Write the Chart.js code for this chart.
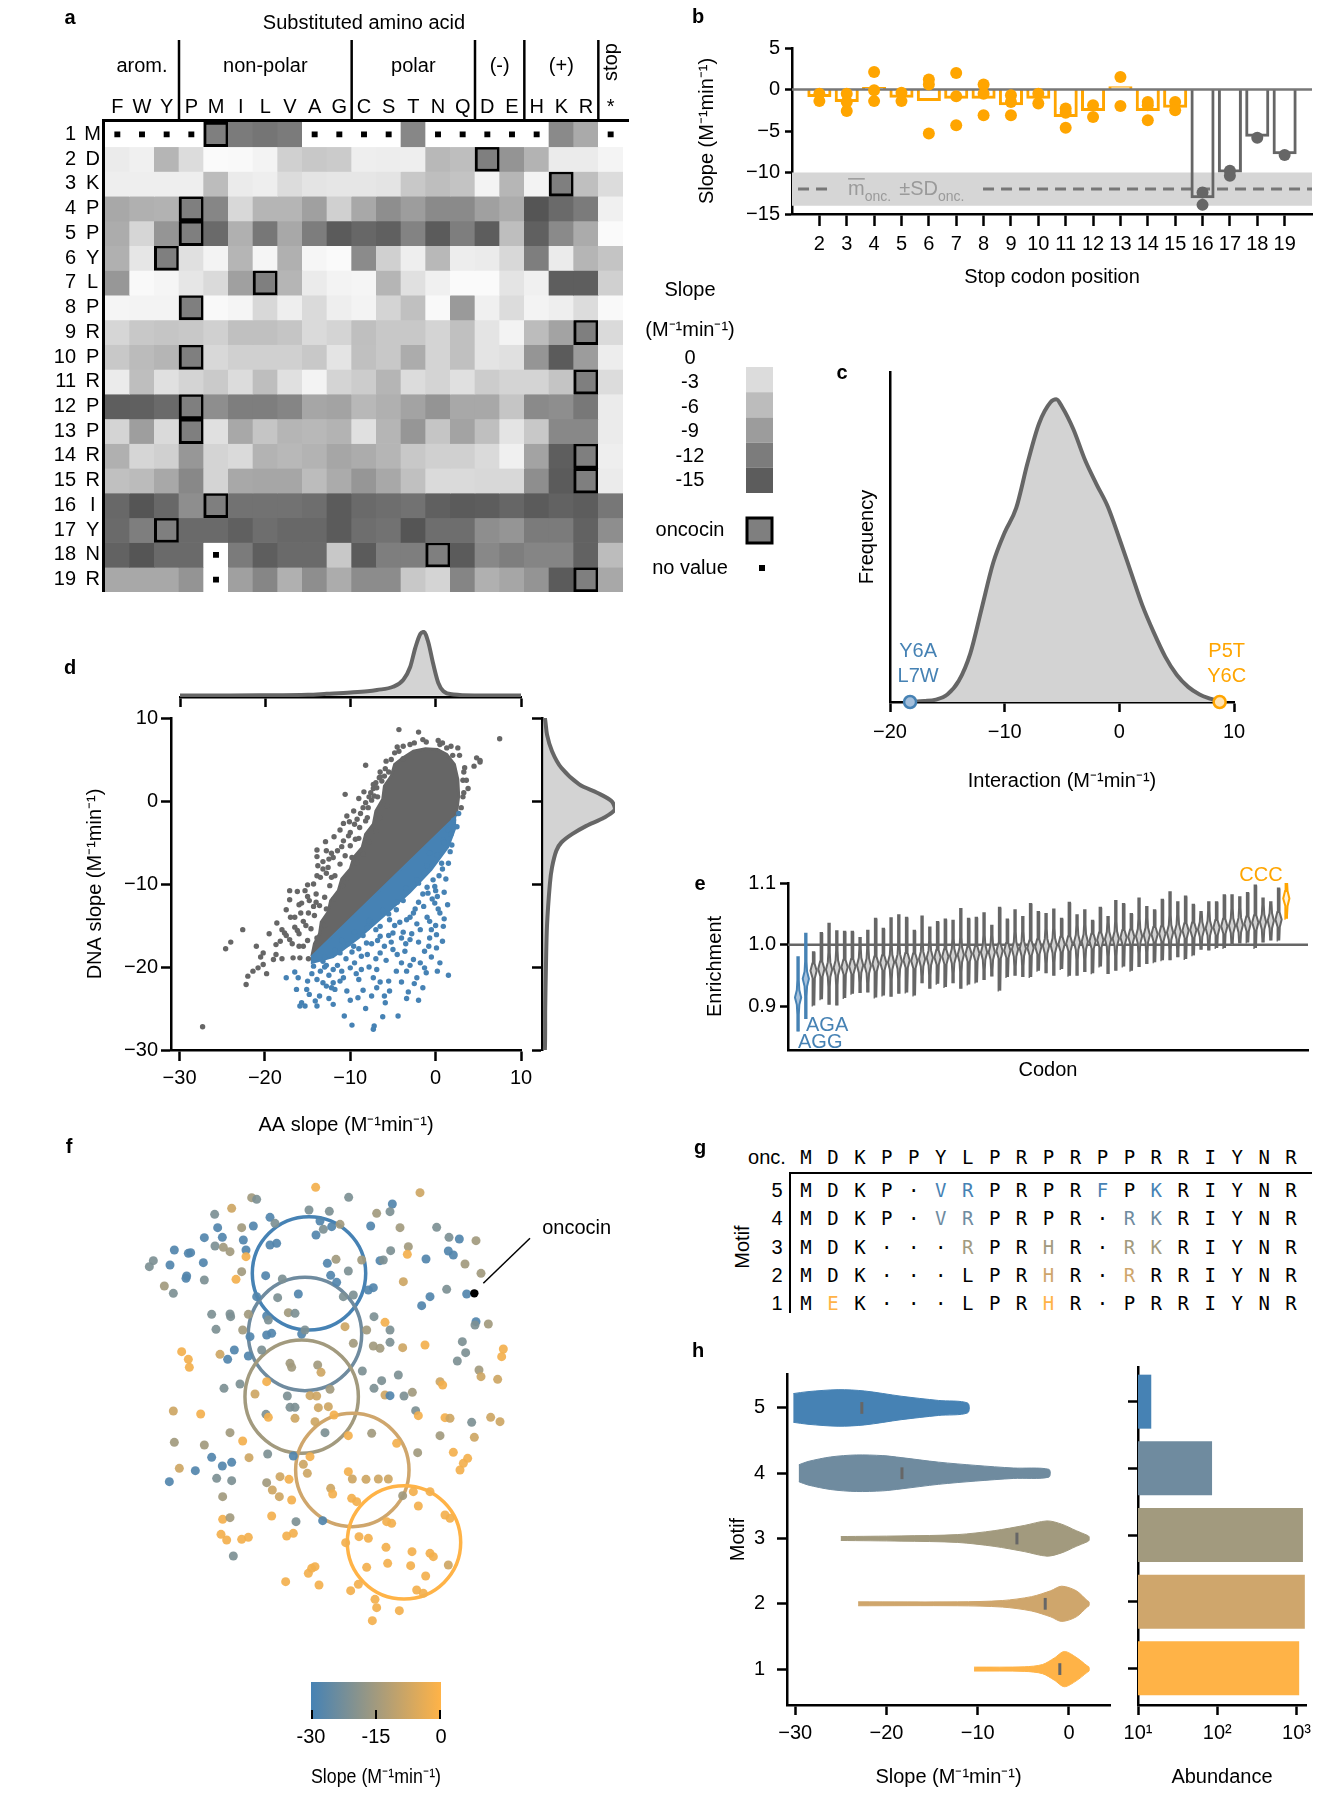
<!DOCTYPE html>
<html>
<head>
<meta charset="utf-8">
<title>Oncocin substitution figure</title>
<script src="https://cdn.jsdelivr.net/npm/chart.js@4.4.1/dist/chart.umd.min.js"></script>
<style>
  html, body { margin: 0; padding: 0; background: #fff; }
  body { position: relative; width: 1319px; height: 1797px; overflow: hidden;
         font-family: 'Liberation Sans', Arial, sans-serif; color: #000; }
  .pane { position: absolute; }
  .pane canvas { display: block; }
  .tag { position: absolute; font-weight: bold; font-size: 20px; line-height: 24px; transform: translate(-50%, -50%); }
  .seq { position: absolute; font-family: 'DejaVu Sans Mono', monospace; font-size: 19px; line-height: 24px; transform: translate(-50%, -50%); }
  .txt { position: absolute; font-size: 20px; line-height: 24px; transform: translate(-50%, -50%); white-space: nowrap; }
  .rule { position: absolute; background: #000; }
</style>
</head>
<body>
<div class="pane" style="left:0;top:0;width:800px;height:610px"><canvas id="heat"></canvas></div>
<div class="pane" style="left:690px;top:0;width:629px;height:300px"><canvas id="stop"></canvas></div>
<div class="pane" style="left:830px;top:340px;width:489px;height:470px"><canvas id="inter"></canvas></div>
<div class="pane" style="left:60px;top:620px;width:500px;height:530px"><canvas id="dna"></canvas></div>
<div class="pane" style="left:60px;top:600px;width:500px;height:110px"><canvas id="dnaTop"></canvas></div>
<div class="pane" style="left:520px;top:700px;width:110px;height:360px"><canvas id="dnaSide"></canvas></div>
<div class="pane" style="left:690px;top:850px;width:629px;height:260px"><canvas id="codon"></canvas></div>
<div class="pane" style="left:120px;top:1130px;width:520px;height:520px"><canvas id="tsne"></canvas></div>
<div class="pane" style="left:280px;top:1670px;width:200px;height:127px"><canvas id="cbar"></canvas></div>
<div class="pane" style="left:700px;top:1350px;width:420px;height:447px"><canvas id="motifViolin"></canvas></div>
<div class="pane" style="left:1100px;top:1350px;width:219px;height:447px"><canvas id="motifAbund"></canvas></div>

<script>
// ---------- panel a: substitution heat map ----------
const aaCols = ['F','W','Y','P','M','I','L','V','A','G','C','S','T','N','Q','D','E','H','K','R','*'];
const oncSeq = ['M','D','K','P','P','Y','L','P','R','P','R','P','P','R','R','I','Y','N','R'];
const oncBoxCol = ['M','D','K','P','P','Y','L','P','R','P','R','P','P','R','R','M','Y','N','R'];
const aaGroups = ['arom.', 'non-polar', 'polar', '(-)', '(+)', 'stop'];
const aaGroupSpan = [[0, 2], [3, 9], [10, 14], [15, 16], [17, 19], [20, 20]];
const heat = [
  [null,null,null,null,-12,-11,-11.5,-11,null,null,null,null,-9.8,null,null,null,null,null,-9.5,-6.5,null],
  [-0.3,0.2,-5.4,-1.7,1.5,1,0.5,-2.9,-3.6,-3.3,0,-0.1,0,-5.1,-4.6,-12,-8.6,-5.6,-0.3,-0.3,0.6],
  [0,0,0,0,-4.8,-0.3,0,-1.7,-1,-0.8,-0.8,-1,-3.6,-4.6,-4.1,0.5,-5.3,0.5,-12,-4.5,-1.7],
  [-6.7,-5.9,-5.7,-12,-9.9,-2.1,-5.4,-5.4,-7.4,-2.9,-6.7,-9.1,-7.7,-9.5,-9.5,-7.4,-6.3,-14.6,-12.6,-11,0.2],
  [-6.3,-2.3,-8.5,-12,-12.6,-5.9,-11.3,-6.7,-10.8,-14,-12.9,-13.5,-10.2,-14,-10.7,-13.8,-4.6,-13.5,-9.5,-6.4,1.2],
  [-5.9,-0.8,-12,-1.3,0.5,-5.4,0.7,-5.9,0.8,1.3,-9.4,-2.9,0,-5.1,-0.1,-0.3,-2.1,-10.7,-0.3,-5.4,-4],
  [-8.3,1,0.7,-0.8,-1.9,-7.4,-12,-5.4,-0.3,0.5,0.7,-5.4,-1.3,0.2,1.1,1.6,-1,0.2,-13.7,-13.7,-2.9],
  [0.7,0.5,0.5,-12,1,0.7,-2.1,0,-1.9,0,0.5,-2.5,-4.4,1,-8,0.2,-1.7,0.5,0,-1.7,1],
  [-2.3,-3.6,-3.9,-3.6,-2.9,-4.4,-4.4,-3.9,-1.9,-2.5,-4.5,-3.6,-3.6,-2.5,-4.4,-1,0.5,-4.8,-7.1,-12,-1.9],
  [-3.6,-4.9,-5.4,-12,-2.1,-2.9,-2.9,-2.9,-3.6,-1,-4.4,-3.6,-6.3,-2.5,-4.4,-1,-1.3,-8.5,-14,-7.8,-0.1],
  [-0.3,-4.6,-1.3,-2.5,-3.4,-1.7,-4.6,-1.3,0.5,-2.5,-3.2,-5.4,-1.7,-2.5,-1.3,-3.2,-2.5,-2.5,-4.0,-12,-1.7],
  [-13.7,-13.5,-12.6,-12,-9.1,-10.7,-10.7,-10,-6.9,-7.1,-5.1,-5.9,-7.1,-8.6,-6.7,-6.7,-3.9,-9.5,-9.1,-11.2,-0.3],
  [-2.5,-7.6,-1.9,-12,-1.3,-6.7,-3.9,-5.4,-5.1,-5.6,-1.3,-5.4,-8.4,-3.9,-7.1,-4.5,-1,-3.6,-9.7,-9.7,-0.3],
  [-5.9,-2.3,-2.9,-8.3,-2.5,-1.9,-5.6,-5.1,-5.6,-6.9,-6.3,-5.4,-3.6,-2.9,-2.9,-1.9,0.2,-7.1,-13.7,-12,0],
  [-4.4,-4.9,-6.7,-9.7,-2.5,-6.7,-6.9,-6.9,-4.8,-6.4,-8.4,-6.7,-4.4,-1.9,-1.9,-2.1,-2.1,-9.1,-14,-12,-0.3],
  [-12.8,-14.6,-12.8,-9.1,-12,-11.8,-11.8,-11.8,-12.2,-14,-12.6,-12.2,-11.8,-13.5,-14,-13.8,-13,-14,-13.3,-13.8,-11.3],
  [-12.6,-10.7,-12,-12.6,-12.6,-13.5,-12.2,-12.8,-12.8,-14,-12.2,-11.8,-14.6,-12.2,-12.2,-9.1,-8.5,-11,-11,-13.3,-9.1],
  [-13.3,-14.6,-12.6,-12.6,null,-11,-13.7,-12.6,-12.6,-3.6,-14,-10.7,-10.7,-12,-14,-9.7,-10.7,-10,-10,-13.3,-4.8],
  [-6.7,-6.7,-6.7,-8.6,null,-7.4,-9.9,-5.9,-9.1,-6.3,-9.3,-9.3,-3.6,-2.5,-10,-5.9,-6.9,-8.6,-14,-12,-6.7]
];
const slopeLegendTicks = ['0', '-3', '-6', '-9', '-12', '-15'];
const slopeLegendGreys = ['#dcdcdc', '#bcbcbc', '#9c9c9c', '#7c7c7c', '#5c5c5c'];

// ---------- panel b: stop codons ----------
const stopPos = [2,3,4,5,6,7,8,9,10,11,12,13,14,15,16,17,18,19];
const stopMean = [-0.9,-1.5,0.3,-1.0,-1.4,-1.1,-1.1,-1.9,-1.1,-3.3,-2.6,0.4,-2.6,-2.2,-13.1,-10.0,-5.7,-7.8];
const stopReps = [
  [-0.5,-1.4], [-0.5,-1.5,-2.6], [2.1,-0.1,-1.4], [-0.4,-1.4], [1.2,0.6,-5.3], [2.0,-0.8,-4.3],
  [0.6,-0.5,-3.1], [-0.7,-1.5,-3.1], [-0.5,-1.7], [-2.3,-2.8,-4.6], [-1.9,-3.3], [1.5,-2.0],
  [-1.5,-1.9,-3.7], [-1.5,-2.5], [-12.4,-13.9], [-9.8,-10.4], [-5.8], [-7.9]
];
const oncMean = -12;
const oncSD = 2;

// ---------- panel c: pairwise interaction ----------
const interX = [-18.3,-17,-16,-15,-14,-13,-12,-11,-10,-9,-8,-7,-6,-5.5,-5,-4,-3,-2,-1,0,1,2,3,4,5,6,7,8,8.8];
const interY = [0,0.003,0.008,0.025,0.07,0.16,0.31,0.46,0.56,0.64,0.79,0.92,0.99,1.0,0.975,0.9,0.8,0.72,0.645,0.54,0.43,0.32,0.23,0.15,0.09,0.05,0.025,0.01,0];
const interMarks = [-18.25, 8.75];

// ---------- panel d: AA vs DNA slope ----------
const dnaGray = [[-4.3,8.6],[-2.0,8.3],[7.5,7.5],[-8.2,4.3],[1.3,6.4],[2.6,6.4],[4.8,5.2],[5.2,4.9],[4.5,4.2],[5.2,4.7],
  [3.8,1.5],[3.2,2.5],[-10.6,0.8],[-8.4,1.1],[-7.5,0.1],[-9.6,-1.2],[-10.1,-2.5],[-10.8,-2.7],[-11.9,-4.3],[-12.9,-4.9],
  [-13.9,-5.9],[-13.9,-6.7],[-13.2,-7.3],[-12.2,-6.3],[-13.9,-9.0],[-12.8,-8.7],[-15.0,-10.1],[-17.1,-10.8],[-16.2,-10.9],[-17.1,-11.9],
  [-15.7,-12.3],[-17.5,-13.1],[-18.6,-14.7],[-18.2,-16.9],[-17.1,-16.7],[-19.0,-19.1],[-18.7,-18.5],[-20.2,-18.3],[-20.5,-18.8],[-20.2,-19.7],
  [-20.8,-20.1],[-21.4,-20.5],[-22.0,-21.1],[-22.2,-22.1],[-22.6,-15.5],[-24.0,-17.0],[-24.6,-17.8],[-27.3,-27.2],[-16.7,-18.9],[-15.9,-18.9],
  [-14.9,-19.0],[-18.7,-17.3],[-17.7,-15.9],[-15.5,-14.5],[-14.9,-13.5],[-14.3,-12.7],[-1.1,7.1],[0.3,7.3],[-3.8,5.1],[-6.5,2.9],
  [-7.3,1.5],[-5.5,3.5],[-16.0,-17.5],[-9.0,-4.5],[-8.0,-2.0],[-6.8,0.5],[-6.0,3.0],[-4.5,6.5],[-3.0,6.8],[0.5,6.8],
  [2.0,5.5],[3.3,3.5],[3.2,0.5],[-16.5,-14.0],[-19.5,-16.0],[-21.0,-17.5],[-19.8,-20.8],[-18.0,-19.0],
  [-15.5,-17.5],[-16.0,-16.0],[-15.2,-15.0],[-14.8,-12.0],[-14.0,-11.2],[-13.5,-9.2],[-12.6,-8.0],[-12.0,-6.8],[-11.0,-5.5],[-10.2,-4.2],
  [-9.5,-2.8],[-8.8,-1.5],[-8.2,-0.2],[-7.6,1.0],[-7.0,2.2],[-6.5,3.5],[-5.8,4.8],[-4.8,5.8],[-3.8,6.6],[-2.5,7.0],
  [-1.5,7.4],[0.8,7.0],[1.8,6.6],[2.8,5.5],[3.4,4.0],[3.6,2.5],[3.3,1.0],[3.0,-0.8],[-16.5,-15.2],[-15.8,-13.5],
  [-15.0,-11.5],[-14.3,-10.0],[-13.2,-8.2],[-12.5,-7.0],[-11.5,-6.0],[-10.8,-4.8],[-10.0,-3.8],[-9.2,-2.2],[-8.5,-0.8],[-7.8,0.5],
  [-7.3,2.0],[-6.6,2.8],[-16.0,-12.5],[-15.3,-10.8],[-13.8,-7.8],[-12.8,-6.0],[-11.2,-3.5],[-10.4,-1.8],[-9.0,0.3],[-17.0,-14.0],
  [-18.0,-15.5],[-16.8,-17.2],
  [-15.0,-16.8],[-14.6,-15.4],[-14.2,-13.8],[-13.6,-12.6],[-13.0,-11.6],[-12.4,-10.2],[-11.8,-9.0],[-11.2,-7.6],[-10.6,-6.6],[-10.0,-5.4],
  [-9.4,-4.6],[-8.9,-3.2],[-8.2,-2.4],[-7.9,-0.8],[-7.2,0.6],[-6.9,1.6],[-6.3,2.4],[-5.9,3.9],[-5.2,5.0],[-4.3,6.0],
  [-13.0,-15.0],[-13.9,-16.5],[-12.8,-13.0],[-11.9,-11.8],[-10.9,-10.2],[-10.3,-9.3],[-9.2,-7.5],[-8.5,-6.4],[-7.8,-4.9],[-7.0,-3.6],
  [-6.5,-2.0],[-5.7,-0.6],[-17.5,-16.2],[-16.2,-15.6],[-14.0,-12.2],[-12.2,-9.2],[-9.8,-6.8]];
const dnaBlue = [[2.7,-1.5],[2.5,-3.1],[1.5,-3.5],[1.9,-5.3],[1.7,-6.1],[0.7,-7.5],[1.5,-7.5],[-0.3,-9.5],[-0.1,-10.3],[-0.9,-11.1],
  [-0.1,-12.3],[0.5,-13.5],[-0.7,-14.5],[0.9,-15.1],[0.1,-16.1],[-0.7,-16.5],[0.8,-16.9],[0.1,-17.7],[-1.3,-18.1],[-1.3,-20.1],
  [-1.1,-20.7],[1.5,-21.0],[-2.2,-21.3],[-3.4,-20.5],[-4.6,-20.5],[-5.5,-21.7],[-5.9,-24.3],[-4.4,-25.9],[-5.4,-22.9],[-6.9,-22.5],
  [-7.3,-21.3],[-7.5,-23.5],[-7.2,-27.1],[-7.3,-27.5],[-9.1,-23.7],[-10.4,-22.9],[-10.7,-25.9],[-11.8,-22.7],[-11.2,-21.7],[-13.2,-21.9],
  [-13.9,-21.5],[-14.1,-24.1],[-13.9,-24.7],[-15.7,-24.3],[-15.3,-24.7],[-15.9,-24.7],[-15.1,-22.7],[-16.3,-22.7],[-16.1,-21.3],[-17.5,-21.3],
  [-13.6,-23.5],[-12.8,-22.3],[-12.2,-22.5],[-14.3,-19.9],[-13.2,-19.3],[-12.0,-20.3],[-10.0,-20.1],[-8.7,-20.3],[-6.9,-20.3],[-6.5,-18.3],
  [-5.0,-17.9],[-3.6,-18.1],[-2.6,-19.1],[-3.0,-16.7],[-1.8,-15.5],[-5.0,-15.9],[-6.5,-16.3],[-8.1,-17.1],[-9.6,-17.5],[-11.2,-18.3],
  [-8.7,-18.7],[-2.6,-13.5],[-1.4,-12.7],[-3.4,-14.3],[-4.6,-13.1],[-5.4,-14.3],[-6.5,-15.1],[-7.7,-14.3],[-2.0,-9.9],[-1.3,-8.7],
  [-0.7,-6.3],[0.9,-4.7],[2.1,-2.3],[-2.0,-17.0],[-4.0,-16.5],[-1.0,-14.0],[0.2,-11.5],[-9.5,-19.5],[-11.0,-20.5],[-7.0,-19.0],
  [-4.0,-19.5],[-2.5,-22.0],[-6.0,-23.5],[-9.0,-21.5],[-12.5,-23.8],[-0.5,-18.8],[0.5,-19.5],[-3.2,-23.0],[-8.2,-25.0],
  [-13.5,-20.5],[-12.5,-21.0],[-11.5,-19.8],[-10.5,-19.0],[-9.8,-18.2],[-9.0,-17.8],[-8.0,-18.5],[-7.5,-17.2],[-6.8,-16.8],[-6.0,-17.5],
  [-5.5,-16.2],[-4.8,-15.0],[-4.2,-14.6],[-3.8,-15.8],[-3.0,-14.0],[-2.4,-13.0],[-2.0,-12.2],[-1.5,-11.2],[-1.0,-10.4],[-0.4,-11.8],
  [0.0,-10.8],[0.4,-9.0],[0.8,-8.2],[1.2,-9.4],[1.0,-11.0],[1.4,-12.5],[0.3,-13.0],[-0.5,-15.5],[1.0,-14.2],[-2.8,-16.0],
  [-3.5,-17.2],[-4.5,-18.5],[-5.8,-19.2],[-7.8,-20.0],[-9.3,-20.8],[-10.8,-21.3],[-12.0,-21.9],[-13.0,-20.0],[-14.5,-20.8],[-15.0,-21.7],
  [-16.5,-20.6],[-14.8,-23.3],[-12.0,-24.5],[-10.0,-24.0],[-8.5,-22.8],[-6.5,-21.8],[-4.0,-21.8],[-3.0,-19.8],[-1.8,-19.5],[-0.8,-17.5],
  [0.0,-15.0],[-2.2,-14.8],[-5.2,-17.0],[-7.0,-15.5],[-8.5,-16.2],[-10.2,-17.2],[-11.8,-18.0],[-13.0,-18.8],[-11.0,-16.8],[-9.5,-15.8],
  [-7.8,-14.5],[-6.2,-13.2],[-4.5,-12.2],[-3.5,-10.5],[-2.2,-9.5],[-1.0,-7.8],[0.2,-6.5],[1.0,-5.0],[1.8,-4.0],[-3.8,-12.0],
  [-5.5,-13.6],[-8.0,-15.3],[-12.8,-19.8],[-3.4,-23.8],[-1.5,-22.5],[-2.0,-24.0],[0.2,-20.5],[-6.2,-26.0],[-9.8,-27.0]];
const grayCore = [[-14.5,-18.7],[-14.2,-17.2],[-13.6,-16.0],[-13.4,-14.6],[-12.6,-13.4],[-12.3,-12.0],[-11.4,-10.8],[-11.0,-9.4],
  [-10.0,-8.2],[-9.6,-6.8],[-8.6,-5.6],[-8.2,-4.0],[-7.3,-2.8],[-7.0,-1.2],[-6.2,0.2],[-6.0,1.8],[-5.2,3.0],[-4.8,4.4],
  [-3.8,5.2],[-2.6,6.0],[-1.2,6.3],[0.2,6.2],[1.3,5.6],[2.2,4.4],[2.6,2.6],[2.7,0.6],[2.4,-1.8]];
const blueCore = [[2.4,-1.8],[-14.5,-18.7],[-14.5,-19.5],[-12,-18.8],[-9,-16.5],[-6,-13.8],[-3,-11],[-0.5,-8.3],[1.5,-5.5],[2.4,-3.0]];
const aaDensX = [-30,-25,-20.6,-15,-12.8,-10,-8,-6.9,-5,-3.8,-3,-2.4,-1.8,-1.4,-0.9,-0.3,0.3,0.9,2.1,4.8,10];
const aaDensY = [0.003,0.004,0.006,0.015,0.03,0.05,0.07,0.09,0.14,0.25,0.45,0.75,0.97,1.0,0.85,0.5,0.2,0.07,0.02,0.005,0.003];
const dnaDensY = [-30,-25,-20,-15,-10,-8,-6,-5,-4,-3,-2,-1,0,1,2,4,6,8,10];
const dnaDensX = [0.02,0.025,0.035,0.05,0.09,0.12,0.18,0.25,0.4,0.6,0.85,1.0,0.95,0.75,0.5,0.25,0.12,0.05,0.02];

// ---------- panel e: codon enrichment (AGG, AGA, ..., CCC) ----------
const codonMed = [0.915,0.945,
  0.958,0.961,0.960,0.963,0.964,0.965,0.967,0.966,0.969,0.971,
  0.972,0.973,0.975,0.974,0.977,0.979,0.980,0.981,0.982,0.984,
  0.985,0.986,0.988,0.988,0.990,0.991,0.993,0.994,0.995,0.997,
  0.998,0.999,1.001,1.002,1.004,1.005,1.006,1.008,1.009,1.010,
  1.012,1.013,1.014,1.016,1.017,1.018,1.020,1.021,1.023,1.024,
  1.025,1.027,1.028,1.030,1.031,1.032,1.034,1.036,1.037,1.039,1.041,
  1.075];
const codonLo = [0.86,0.88,
  0.902,0.912,0.903,0.902,0.914,0.921,0.922,0.923,0.915,0.918,
  0.916,0.921,0.923,0.918,0.938,0.929,0.937,0.932,0.938,0.929,
  0.936,0.939,0.943,0.949,0.926,0.948,0.950,0.948,0.948,0.958,
  0.954,0.950,0.961,0.950,0.950,0.956,0.954,0.965,0.953,0.958,
  0.965,0.958,0.964,0.969,0.972,0.975,0.975,0.980,0.977,0.983,
  0.992,0.991,0.995,0.995,1.001,1.002,1.004,0.995,1.004,1.007,1.007,
  1.042];
const codonHi = [0.98,1.018,
  0.988,1.019,1.034,1.022,1.021,1.021,1.011,1.023,1.042,1.026,
  1.043,1.048,1.044,1.023,1.046,1.028,1.037,1.041,1.039,1.058,
  1.042,1.044,1.051,1.031,1.060,1.041,1.056,1.045,1.066,1.053,
  1.050,1.057,1.042,1.068,1.048,1.056,1.039,1.060,1.045,1.071,
  1.066,1.050,1.075,1.061,1.056,1.073,1.085,1.069,1.078,1.065,
  1.053,1.069,1.069,1.080,1.080,1.077,1.084,1.096,1.075,1.069,1.091,
  1.1];

// ---------- panel f: sequence map, [x, y, slope] ----------
const tsnePts = [[58.7,17.2,-2],[90.0,18.8,-8],[39.5,20.3,-15],[41.0,20.8,-21],[33.5,23.5,-8],[68.6,20.2,-21],[81.7,22.2,-28],[81.0,24.5,-21],
  [56.7,24.0,-21],[62.8,24.4,-21],[77.0,25.0,-15],[28.4,25.3,-21],[45.0,26.2,-28],[46.5,28.0,-21],[29.3,29.3,-28],[40.0,28.8,-28],
  [36.5,29.3,-15],[60.0,27.3,-28],[61.0,29.8,-21],[63.5,29.0,-28],[66.0,28.3,-15],[75.2,28.8,-28],[84.0,29.3,-15],[95.0,29.2,-21],
  [25.3,32.3,-28],[30.7,32.2,-28],[37.0,33.0,-28],[45.0,34.5,-28],[47.0,34.0,-28],[58.8,31.5,-28],[98.7,32.2,-21],[101.8,32.7,-28],
  [106.8,33.2,-15],[28.5,34.8,-21],[31.0,35.2,-15],[33.0,36.5,-15],[37.8,36.0,-28],[16.3,36.0,-28],[20.5,37.0,-28],[21.2,36.8,-28],
  [37.8,38.0,-2],[72.5,39.0,-15],[78.0,39.2,-28],[79.0,39.0,-21],[81.2,36.2,-21],[86.5,35.0,-15],[86.2,37.3,-2],[91.8,38.7,-28],
  [98.5,36.3,-28],[100.0,37.5,-28],[64.8,38.8,-15],[62.2,40.0,-28],[10.0,39.2,-21],[8.8,41.0,-21],[15.0,40.5,-28],[25.0,39.8,-28],
  [103.5,40.2,-15],[36.5,42.5,-15],[34.8,44.8,-2],[43.7,43.7,-28],[20.0,43.8,-28],[19.8,44.5,-28],[25.3,45.0,-21],[48.7,44.7,-21],
  [63.2,43.6,-28],[65.0,45.7,-28],[68.5,42.3,-21],[85.0,45.5,-8],[76.0,47.3,-28],[74.5,48.0,-28],[108.3,43.0,-15],[13.3,46.8,-15],
  [16.0,49.0,-21],[53.5,49.2,-28],[47.3,50.3,-21],[41.0,50.0,-28],[67.0,50.0,-21],[70.0,49.5,-21],[93.0,50.0,-28],[90.5,52.7,-28],
  [98.0,47.8,-21],[104.0,49.2,-28],[27.5,55.3,-21],[33.0,55.2,-21],[33.2,56.0,-21],[38.5,55.3,-15],[44.0,55.8,-28],[44.5,57.0,-21],
  [50.5,54.8,-15],[52.5,55.0,-21],[76.2,56.0,-21],[79.5,57.7,-2],[106.8,57.5,-28],[106.5,58.5,-21],[110.5,58.2,-15],[28.8,59.8,-21],
  [36.8,60.0,-15],[67.5,59.0,-8],[74.0,60.0,-15],[81.0,60.0,-21],[39.0,62.0,-28],[44.0,61.5,-28],[45.5,61.0,-28],[54.5,61.2,-28],
  [55.5,60.0,-21],[70.0,64.0,-15],[76.0,64.8,-15],[78.0,65.5,-15],[81.0,63.7,-21],[84.8,65.3,-8],[91.5,64.5,-2],[102.7,63.5,-21],
  [18.5,66.5,-2],[20.5,68.8,-2],[20.8,71.2,-2],[30.0,67.3,-8],[34.3,66.0,-28],[32.3,68.8,-28],[38.5,67.8,-28],[42.5,66.0,-21],
  [51.0,70.0,-15],[51.5,71.2,-15],[59.3,70.5,-15],[60.3,72.7,-8],[72.7,72.3,-21],[101.2,69.3,-21],[103.7,66.8,-21],[115.0,65.7,-2],
  [114.5,68.0,-2],[31.2,77.5,-21],[36.0,76.2,-21],[44.0,75.5,-2],[76.2,77.5,-21],[78.5,75.2,-21],[83.5,73.5,-21],[96.0,75.5,-8],
  [96.8,76.5,-2],[107.7,72.0,-15],[108.3,74.0,-8],[113.3,74.8,-8],[40.5,79.2,-8],[50.2,79.8,-21],[57.0,79.7,-8],[59.0,79.8,-8],
  [63.0,77.8,-15],[79.5,79.5,-8],[81.0,79.7,-28],[85.2,79.8,-21],[87.7,78.7,-15],[16.0,84.3,-8],[24.2,85.2,-2],[43.8,85.3,-21],
  [44.5,86.2,-2],[51.0,83.2,-21],[52.5,83.2,-21],[52.5,86.5,-8],[59.5,83.3,-8],[62.5,83.0,-8],[64.2,85.5,-2],[58.5,87.5,-8],
  [88.7,84.2,-21],[89.5,85.7,-2],[97.5,86.3,-2],[99.0,86.5,-8],[105.5,87.7,-21],[111.2,86.2,-8],[114.0,87.5,-8],[33.0,90.8,-15],
  [36.8,93.3,-2],[16.3,93.7,-15],[25.3,94.5,-15],[61.5,90.8,-21],[68.5,91.7,-2],[75.5,91.0,-15],[83.0,94.0,-2],[89.3,96.8,-15],
  [96.0,91.7,-15],[106.3,92.2,-8],[100.0,96.7,-2],[104.3,98.5,-2],[103.0,100.0,-2],[102.0,102.0,-2],[27.5,98.2,-28],[30.7,100.8,-28],
  [33.5,99.7,-28],[38.7,98.3,-8],[44.3,97.2,-21],[52.0,97.8,-28],[57.0,98.0,-2],[55.0,100.3,-8],[56.2,103.0,-8],[17.8,101.5,-8],
  [22.6,102.2,-28],[14.8,105.5,-28],[29.0,104.5,-21],[33.5,105.2,-21],[44.0,105.8,-15],[48.0,104.0,-8],[50.7,104.8,-2],[45.7,108.0,-8],
  [47.8,110.0,-8],[51.5,111.0,-2],[68.5,102.5,-2],[69.7,104.7,-8],[73.8,104.8,-8],[77.5,104.7,-8],[80.5,104.7,-8],[63.2,107.5,-8],
  [63.8,109.2,-2],[69.5,110.5,-2],[71.0,111.5,-2],[84.8,109.7,-15],[88.0,108.5,-2],[93.0,108.5,-2],[89.5,112.8,-2],[30.8,110.0,-15],
  [30.8,116.8,-2],[33.0,116.3,-15],[45.5,115.8,-2],[52.8,117.5,-21],[60.8,117.2,-28],[80.0,117.5,-2],[81.5,118.0,-2],[97.5,115.5,-2],
  [99.0,116.5,-2],[30.3,121.3,-2],[32.0,123.0,-2],[36.5,122.8,-2],[38.5,122.2,-2],[50.0,121.8,-2],[52.0,121.0,-2],[67.7,123.8,-2],
  [71.7,122.0,-2],[74.5,122.5,-2],[79.8,125.2,-2],[87.6,126.5,-2],[93.0,127.0,-2],[94.0,128.0,-2],[98.5,130.5,-8],[34.0,127.8,-21],
  [80.3,130.0,-2],[87.2,130.7,-2],[74.0,131.2,-2],[91.7,133.8,-2],[57.5,131.5,-2],[58.5,131.0,-2],[56.5,133.0,-2],[49.7,135.5,-2],
  [59.7,136.5,-2],[69.2,138.2,-2],[71.5,136.3,-2],[89.0,138.0,-2],[91.0,139.0,-2],[76.5,140.8,-2],[77.0,143.3,-2],[83.8,144.2,-2],
  [75.7,147.2,-2]];
const oncocinPt = [106.3, 49.0];
const motifCircleX = [85.2, 69.7, 54.5, 55.5, 56.7];
const motifCircleY = [123.7, 102.0, 80.0, 61.2, 43.0];

// ---------- panels g, h: motifs 1..5 ----------
const motifIds = [1, 2, 3, 4, 5];
const motifColors = ['#ffb347', '#cfa66c', '#a29a7e', '#6f8b9f', '#4682b4'];
const oncocinSeq = 'MDKPPYLPRPRPPRRIYNR';
const motifSeqs = ['MEK\u00B7\u00B7\u00B7LPRHR\u00B7PRRIYNR', 'MDK\u00B7\u00B7\u00B7LPRHR\u00B7RRRIYNR', 'MDK\u00B7\u00B7\u00B7RPRHR\u00B7RKRIYNR',
                   'MDKP\u00B7VRPRPR\u00B7RKRIYNR', 'MDKP\u00B7VRPRPRFPKRIYNR'];
const motifMarked = [[1, 9], [9, 12], [6, 9, 12, 13], [5, 6, 12, 13], [5, 6, 11, 13]];
const violinXs = [[-10.4,-4.9,-2.9,-1.6,-0.5,0.8,2.0,2.2],
                  [-23.1,-12.2,-7.3,-4.1,-2.0,-0.8,0.8,2.0,2.2],
                  [-25,-18.4,-12.2,-8.2,-4.9,-2.4,-0.8,0.8,2.0,2.2],
                  [-29.6,-28.6,-26.1,-23.3,-20.4,-18.4,-14.3,-10.2,-6.1,-2.2],
                  [-30.2,-28.6,-25.3,-22.4,-18.4,-14.3,-11.1]];
const violinHs = [[0.03,0.035,0.07,0.17,0.27,0.18,0.05,0.03],
                  [0.03,0.03,0.05,0.11,0.2,0.27,0.2,0.05,0.03],
                  [0.03,0.04,0.06,0.12,0.2,0.27,0.22,0.12,0.05,0.03],
                  [0.13,0.18,0.25,0.28,0.27,0.24,0.17,0.12,0.08,0.06],
                  [0.22,0.25,0.28,0.26,0.18,0.115,0.075]];
const motifMedian = [-1.0, -2.6, -5.7, -18.3, -22.7];
const motifAbund = [1081, 1274, 1206, 86, 14.7];

// ---------- shared settings ----------
const FONT = "'Liberation Sans', Arial, sans-serif";
const ORANGE = '#ffa500';
const BLUE = '#4682b4';
const GREY = '#666666';
const UNIT = '(M\u207B\u00B9min\u207B\u00B9)';
Chart.defaults.font.family = FONT;
Chart.defaults.font.size = 20;
Chart.defaults.color = '#000';
Chart.defaults.animation = false;
Chart.defaults.maintainAspectRatio = false;
Chart.defaults.events = [];
Chart.defaults.layout.autoPadding = false;
Chart.defaults.plugins.legend.display = false;
Chart.defaults.plugins.tooltip.enabled = false;

const fmt = v => (v < 0 ? '\u2212' + Math.abs(v) : String(v));
const setTicks = vals => s => { s.ticks = vals.map(v => ({ value: v })); };
const fixW = w => s => { s.width = w; };
const fixH = h => s => { s.height = h; };
const spine = { display: true, color: '#000', width: 2.5 };
const tickMarks = len => ({ display: true, offset: false, drawOnChartArea: false, drawTicks: true, tickLength: len, tickWidth: 2.5, tickColor: '#000' });
const noGrid = { display: false, drawTicks: false, offset: false };
const pts = arr => arr.map(p => ({ x: p[0], y: p[1] }));
// bottom-axis titles are placed from the bottom edge of the axis box
const bottomTitle = (text, gap) => ({ display: true, text, padding: { top: 0, bottom: gap } });
const leftTitle = (text, gap) => ({ display: true, text, padding: { top: gap, bottom: 0 } });

function greyOf(v) {
  const g = Math.round(Math.max(80, Math.min(250, 238 + 10.5 * v)));
  return `rgb(${g},${g},${g})`;
}

function mix(a, b, t) {
  const pa = [1, 3, 5].map(i => parseInt(a.substr(i, 2), 16));
  const pb = [1, 3, 5].map(i => parseInt(b.substr(i, 2), 16));
  return 'rgba(' + pa.map((c, i) => Math.round(c + (pb[i] - c) * t)).join(',') + ',0.92)';
}
function slopeColor(s) {
  const t = Math.max(0, Math.min(1, (s + 30) / 30));
  return t < 0.5 ? mix(BLUE, '#a29a7e', t * 2) : mix('#a29a7e', '#ffb347', (t - 0.5) * 2);
}

// ---------- a ----------
const heatDecor = {
  id: 'heatDecor',
  afterDraw(chart) {
    const { ctx, chartArea: ca } = chart;
    const cw = (ca.right - ca.left) / aaCols.length;
    const edge = k => ca.left + k * cw;
    ctx.save();
    ctx.fillStyle = '#000';
    ctx.strokeStyle = '#000';
    ctx.textAlign = 'center';
    ctx.textBaseline = 'middle';
    ctx.font = `20px ${FONT}`;
    ctx.fillText('Substituted amino acid', (ca.left + ca.right) / 2, 23);
    ctx.lineWidth = 2.5;
    aaGroupSpan.forEach(([a, b], i) => {
      const cx = (edge(a) + edge(b + 1)) / 2;
      if (aaGroups[i] === 'stop') {
        ctx.save();
        ctx.translate(cx + 1, 62);
        ctx.rotate(-Math.PI / 2);
        ctx.fillText(aaGroups[i], 0, 0);
        ctx.restore();
      } else {
        ctx.fillText(aaGroups[i], cx, 66);
      }
      if (i > 0) {
        ctx.beginPath();
        ctx.moveTo(edge(a), 40);
        ctx.lineTo(edge(a), ca.top);
        ctx.stroke();
      }
    });
    ctx.lineWidth = 3;
    ctx.beginPath();
    ctx.moveTo(ca.left - 1.5, ca.bottom);
    ctx.lineTo(ca.left - 1.5, ca.top - 1.5);
    ctx.lineTo(ca.right + 6, ca.top - 1.5);
    ctx.stroke();

    // legend
    const lx = 690;
    ctx.fillText('Slope', lx, 290);
    ctx.fillText(UNIT, lx, 330);
    slopeLegendTicks.forEach((t, i) => ctx.fillText(t, lx, 358 + i * 24.5));
    slopeLegendGreys.forEach((g, i) => {
      ctx.fillStyle = g;
      ctx.fillRect(746, 367 + i * 25.2, 27, 25.2);
    });
    ctx.fillStyle = '#000';
    ctx.fillText('oncocin', lx, 530);
    ctx.fillStyle = '#7f7f7f';
    ctx.fillRect(747, 518, 25, 25);
    ctx.strokeRect(747, 518, 25, 25);
    ctx.fillStyle = '#000';
    ctx.fillText('no value', lx, 568);
    ctx.fillRect(759, 565, 6, 6);
    ctx.restore();
  }
};

const heatSets = oncSeq.map((aa, r) => ({
  type: 'bar',
  data: aaCols.map(() => [r, r + 1]),
  backgroundColor: heat[r].map((v, c) => aaCols[c] === oncBoxCol[r] ? '#7f7f7f' : (v === null ? '#ffffff' : greyOf(v))),
  borderColor: '#000',
  borderWidth: heat[r].map((v, c) => aaCols[c] === oncBoxCol[r] ? 3 : 0),
  borderSkipped: false,
  grouped: false,
  barPercentage: 1,
  categoryPercentage: 1,
  order: 2
}));
const noValue = [];
heat.forEach((row, r) => row.forEach((v, c) => {
  if (v === null) noValue.push({ x: aaCols[c], y: r + 0.5 });
}));
const rowTicks = oncSeq.map((_, i) => i + 0.5);

new Chart(document.getElementById('heat'), {
  type: 'bar',
  data: {
    labels: aaCols,
    datasets: [...heatSets, {
      type: 'scatter', data: noValue, pointStyle: 'rect', pointRadius: 4.2,
      backgroundColor: '#000', borderWidth: 0, order: 1
    }]
  },
  options: {
    layout: { padding: { top: 86, right: 177, bottom: 18, left: 0 } },
    scales: {
      x: { type: 'category', position: 'top', offset: true, grid: noGrid, border: { display: false },
           ticks: { autoSkip: false, maxRotation: 0, padding: 3 }, afterFit: fixH(36) },
      y: { type: 'linear', position: 'left', min: 0, max: 19, reverse: true, weight: 0, grid: noGrid, border: { display: false },
           afterBuildTicks: setTicks(rowTicks),
           ticks: { autoSkip: false, crossAlign: 'center', padding: 4, callback: v => oncSeq[Math.floor(v)] }, afterFit: fixW(24) },
      yn: { type: 'linear', position: 'left', min: 0, max: 19, reverse: true, weight: 1, grid: noGrid, border: { display: false },
            afterBuildTicks: setTicks(rowTicks),
            ticks: { autoSkip: false, padding: 5, callback: v => String(Math.floor(v) + 1) }, afterFit: fixW(81) }
    }
  },
  plugins: [heatDecor]
});

// ---------- b ----------
const stopColor = p => (p <= 15 ? ORANGE : GREY);
const repPoints = [];
const repColors = [];
stopPos.forEach((p, i) => stopReps[i].forEach(v => {
  repPoints.push({ x: p, y: v });
  repColors.push(stopColor(p));
}));
const oncLabel = {
  id: 'oncLabel',
  afterDatasetsDraw(chart) {
    const { ctx, scales: { x, y } } = chart;
    const yy = y.getPixelForValue(oncMean);
    let px = x.getPixelForValue(3.05);
    ctx.save();
    ctx.fillStyle = '#9a9a9a';
    ctx.textBaseline = 'middle';
    ctx.textAlign = 'left';
    ctx.font = `20px ${FONT}`;
    const mw = ctx.measureText('m').width;
    ctx.fillText('m', px, yy);
    ctx.fillRect(px, yy - 11, mw, 1.5);
    px += mw;
    ctx.font = `14px ${FONT}`;
    ctx.fillText('onc.', px, yy + 8);
    px += ctx.measureText('onc.').width + 8;
    ctx.font = `20px ${FONT}`;
    ctx.fillText('\u00B1SD', px, yy);
    px += ctx.measureText('\u00B1SD').width;
    ctx.font = `14px ${FONT}`;
    ctx.fillText('onc.', px, yy + 8);
    ctx.restore();
  }
};
new Chart(document.getElementById('stop'), {
  type: 'bar',
  data: {
    datasets: [
      { type: 'line', data: [{ x: 1, y: oncMean + oncSD }, { x: 20, y: oncMean + oncSD }],
        fill: { value: oncMean - oncSD }, backgroundColor: '#d6d6d6', borderWidth: 0, pointRadius: 0, order: 6 },
      { type: 'line', data: [{ x: 1.22, y: oncMean }, { x: 2.46, y: oncMean }, { x: 5, y: null }, { x: 7.98, y: oncMean }, { x: 20, y: oncMean }],
        borderColor: '#777', borderWidth: 3, borderDash: [11, 7], pointRadius: 0, spanGaps: false, order: 5 },
      { type: 'bar', data: stopPos.map((p, i) => ({ x: p, y: stopMean[i] })),
        backgroundColor: 'rgba(0,0,0,0)', borderColor: stopPos.map(stopColor), borderWidth: 3,
        barPercentage: 0.88, categoryPercentage: 1, order: 4 },
      { type: 'line', data: [{ x: 1, y: 0 }, { x: 20, y: 0 }], borderColor: '#777', borderWidth: 2.5, pointRadius: 0, order: 3 },
      { type: 'scatter', data: repPoints, backgroundColor: repColors, pointRadius: 6, borderWidth: 0, order: 1 }
    ]
  },
  options: {
    layout: { padding: { top: 48, right: 7, left: 0, bottom: 0 } },
    scales: {
      x: { type: 'linear', min: 1, max: 20, offset: false, grid: tickMarks(12), border: spine,
           afterBuildTicks: setTicks(stopPos), ticks: { padding: 6, callback: v => String(v) },
           title: bottomTitle('Stop codon position', 11), afterFit: fixH(86) },
      y: { type: 'linear', min: -15, max: 5, grid: tickMarks(7), border: spine,
           afterBuildTicks: setTicks([-15, -10, -5, 0, 5]), ticks: { padding: 5, callback: fmt },
           title: leftTitle('Slope ' + UNIT, 5), afterFit: fixW(102) }
    }
  },
  plugins: [oncLabel]
});

// ---------- c ----------
const interLabels = {
  id: 'interLabels',
  afterDraw(chart) {
    const { ctx, scales: { x } } = chart;
    ctx.save();
    ctx.font = `20px ${FONT}`;
    ctx.textAlign = 'center';
    ctx.textBaseline = 'middle';
    ctx.fillStyle = BLUE;
    const bx = x.getPixelForValue(interMarks[0]) + 8;
    ctx.fillText('Y6A', bx, 311);
    ctx.fillText('L7W', bx, 336);
    ctx.fillStyle = ORANGE;
    const ox = x.getPixelForValue(interMarks[1]) + 7;
    ctx.fillText('P5T', ox, 311);
    ctx.fillText('Y6C', ox, 336);
    ctx.restore();
  }
};
new Chart(document.getElementById('inter'), {
  type: 'scatter',
  data: {
    datasets: [
      { type: 'line', data: interX.map((x, i) => ({ x, y: interY[i] })), fill: 'origin', backgroundColor: '#d3d3d3',
        borderColor: GREY, borderWidth: 4, pointRadius: 0, tension: 0.4, cubicInterpolationMode: 'monotone', order: 2 },
      { data: [{ x: interMarks[0], y: 0 }], pointRadius: 6, backgroundColor: '#a4bfdb', borderColor: BLUE, borderWidth: 2.5, clip: false, order: 1 },
      { data: [{ x: interMarks[1], y: 0 }], pointRadius: 6, backgroundColor: '#ffe3b3', borderColor: ORANGE, borderWidth: 2.5, clip: false, order: 1 }
    ]
  },
  options: {
    layout: { padding: { top: 32, right: 85, left: 0, bottom: 0 } },
    scales: {
      x: { min: -20, max: 10, grid: tickMarks(10), border: spine, afterBuildTicks: setTicks([-20, -10, 0, 10]),
           ticks: { padding: 8, callback: fmt },
           title: bottomTitle('Interaction ' + UNIT, 17), afterFit: fixH(108) },
      y: { min: 0, max: 1.09, grid: noGrid, border: spine, ticks: { display: false },
           title: leftTitle('Frequency', 25), afterFit: fixW(60) }
    }
  },
  plugins: [interLabels]
});

// ---------- d ----------
new Chart(document.getElementById('dna'), {
  type: 'scatter',
  data: {
    datasets: [
      { type: 'line', data: pts(grayCore), fill: 'shape', backgroundColor: GREY, borderColor: GREY, borderWidth: 3, pointRadius: 0, order: 5 },
      { type: 'line', data: pts(blueCore), fill: 'shape', backgroundColor: BLUE, borderColor: BLUE, borderWidth: 2, pointRadius: 0, order: 4 },
      { data: pts(dnaGray), pointRadius: 2.7, backgroundColor: GREY, borderWidth: 0, order: 3 },
      { data: pts(dnaBlue), pointRadius: 2.7, backgroundColor: BLUE, borderWidth: 0, order: 2 }
    ]
  },
  options: {
    layout: { padding: { top: 98, right: 39, left: 0, bottom: 0 } },
    scales: {
      x: { min: -31, max: 10, grid: tickMarks(11), border: spine, afterBuildTicks: setTicks([-30, -20, -10, 0, 10]),
           ticks: { padding: 5, callback: fmt },
           title: bottomTitle('AA slope ' + UNIT, 13), afterFit: fixH(100) },
      y: { min: -30, max: 10, grid: tickMarks(10), border: spine, afterBuildTicks: setTicks([-30, -20, -10, 0, 10]),
           ticks: { padding: 3, callback: fmt },
           title: leftTitle('DNA slope ' + UNIT, 23), afterFit: fixW(111) }
    }
  }
});
new Chart(document.getElementById('dnaTop'), {
  type: 'scatter',
  data: {
    datasets: [{ type: 'line', data: aaDensX.map((x, i) => ({ x, y: aaDensY[i] })), fill: 'origin',
                 backgroundColor: '#d3d3d3', borderColor: GREY, borderWidth: 4, pointRadius: 0,
                 tension: 0.4, cubicInterpolationMode: 'monotone' }]
  },
  options: {
    layout: { padding: { top: 30, right: 39, left: 120, bottom: 0 } },
    scales: {
      x: { min: -30, max: 10, grid: tickMarks(10), border: spine, afterBuildTicks: setTicks([-30, -20, -10, 0, 10]),
           ticks: { display: false }, afterFit: fixH(13) },
      y: { display: false, min: -0.02, max: 1.03 }
    }
  }
});
new Chart(document.getElementById('dnaSide'), {
  type: 'scatter',
  data: {
    datasets: [{ type: 'line',
                 data: [{ x: 0, y: -30 }, ...dnaDensY.map((y, i) => ({ x: dnaDensX[i], y })), { x: 0, y: 10 }],
                 fill: 'shape', backgroundColor: '#d3d3d3', borderColor: GREY, borderWidth: 4, pointRadius: 0, tension: 0.3 }]
  },
  options: {
    layout: { padding: { top: 18, right: 15, left: 0, bottom: 10 } },
    scales: {
      x: { display: false, min: -0.02, max: 1.0 },
      y: { min: -30, max: 10, grid: tickMarks(10), border: spine, afterBuildTicks: setTicks([-30, -20, -10, 0, 10]),
           ticks: { display: false }, afterFit: fixW(22) }
    }
  }
});

// ---------- e ----------
const last = codonMed.length - 1;
const violinSets = codonMed.map((m, i) => {
  const x = i + 1;
  const lo = codonLo[i];
  const hi = codonHi[i];
  const line = i < 2 ? BLUE : (i === last ? ORANGE : GREY);
  const fillc = i < 2 ? '#a9c3dd' : (i === last ? '#fff3dc' : '#d3d3d3');
  const t = 0.09, w = 0.4, n = 0.16;
  const poly = [[x - t, lo], [x - t, m - 0.028], [x - n, m - 0.012], [x - w, m], [x - n, m + 0.012], [x - t, m + 0.028], [x - t, hi],
                [x + t, hi], [x + t, m + 0.028], [x + n, m + 0.012], [x + w, m], [x + n, m - 0.012], [x + t, m - 0.028], [x + t, lo]];
  return { type: 'line', data: pts(poly), fill: 'shape', backgroundColor: fillc, borderColor: line,
           borderWidth: 2, pointRadius: 0, order: 2 };
});
const codonLabels = {
  id: 'codonLabels',
  afterDraw(chart) {
    const { ctx } = chart;
    ctx.save();
    ctx.font = `20px ${FONT}`;
    ctx.textBaseline = 'middle';
    ctx.textAlign = 'center';
    ctx.fillStyle = ORANGE;
    ctx.fillText('CCC', 571, 25);
    ctx.textAlign = 'left';
    ctx.fillStyle = BLUE;
    ctx.fillText('AGA', 116, 175);
    ctx.fillText('AGG', 108, 192);
    ctx.restore();
  }
};
new Chart(document.getElementById('codon'), {
  type: 'scatter',
  data: {
    datasets: [
      { type: 'line', data: [{ x: -0.3, y: 1 }, { x: 66.8, y: 1 }], borderColor: GREY, borderWidth: 2.5, pointRadius: 0, order: 3 },
      ...violinSets
    ]
  },
  options: {
    layout: { padding: { top: 33, right: 11, left: 0, bottom: 0 } },
    scales: {
      x: { min: -0.3, max: 66.8, grid: noGrid, border: spine, ticks: { display: false },
           title: bottomTitle('Codon', 28), afterFit: fixH(60) },
      y: { min: 0.83, max: 1.1, grid: tickMarks(8), border: spine, afterBuildTicks: setTicks([0.9, 1.0, 1.1]),
           ticks: { padding: 4, callback: v => v.toFixed(1) },
           title: leftTitle('Enrichment', 13), afterFit: fixW(98) }
    }
  },
  plugins: [codonLabels]
});

// ---------- f ----------
const tsneLabel = {
  id: 'tsneLabel',
  afterDraw(chart) {
    const { ctx, scales: { x, y } } = chart;
    ctx.save();
    ctx.font = `20px ${FONT}`;
    ctx.textAlign = 'center';
    ctx.textBaseline = 'middle';
    ctx.fillStyle = '#000';
    ctx.fillText('oncocin', x.getPixelForValue(137), y.getPixelForValue(29.5));
    ctx.restore();
  }
};
new Chart(document.getElementById('tsne'), {
  type: 'scatter',
  data: {
    datasets: [
      ...motifIds.map((m, k) => ({
        type: 'bubble', data: [{ x: motifCircleX[k], y: motifCircleY[k], r: 56.7 }],
        backgroundColor: 'rgba(0,0,0,0)', borderColor: motifColors[k], borderWidth: 3.5, order: 3
      })),
      { data: tsnePts.map(p => ({ x: p[0], y: p[1] })), backgroundColor: tsnePts.map(p => slopeColor(p[2])),
        pointRadius: 4.5, borderWidth: 0, order: 2 },
      { type: 'line', data: [{ x: 109, y: 46 }, { x: 123, y: 32.5 }], borderColor: '#000', borderWidth: 1.5, pointRadius: 0, order: 1 },
      { data: [{ x: oncocinPt[0], y: oncocinPt[1] }], backgroundColor: '#000', pointRadius: 4.2, borderWidth: 0, order: 1 }
    ]
  },
  options: {
    layout: { padding: 0 },
    scales: {
      x: { display: false, min: 0, max: 156 },
      y: { display: false, min: 0, max: 156, reverse: true }
    }
  },
  plugins: [tsneLabel]
});

const cbarTicks = {
  id: 'cbarTicks',
  afterDatasetsDraw(chart) {
    const { ctx, chartArea: ca, scales: { x } } = chart;
    ctx.save();
    ctx.strokeStyle = '#000';
    ctx.lineWidth = 2;
    [-30, -15, 0].forEach(v => {
      const px = Math.min(Math.max(x.getPixelForValue(v), ca.left + 1), ca.right - 1);
      ctx.beginPath();
      ctx.moveTo(px, ca.bottom - 9);
      ctx.lineTo(px, ca.bottom);
      ctx.stroke();
    });
    ctx.restore();
  }
};
new Chart(document.getElementById('cbar'), {
  type: 'bar',
  data: {
    labels: [''],
    datasets: [{
      data: [[-30, 0]], barPercentage: 1, categoryPercentage: 1, borderWidth: 0,
      backgroundColor: c => {
        const ca = c.chart.chartArea;
        if (!ca) return '#a29a7e';
        const g = c.chart.ctx.createLinearGradient(ca.left, 0, ca.right, 0);
        g.addColorStop(0, BLUE);
        g.addColorStop(0.5, '#a29a7e');
        g.addColorStop(1, '#ffb347');
        return g;
      }
    }]
  },
  options: {
    indexAxis: 'y',
    layout: { padding: { top: 12, right: 39, left: 31, bottom: 0 } },
    scales: {
      x: { min: -30, max: 0, grid: noGrid, border: { display: false }, afterBuildTicks: setTicks([-30, -15, 0]),
           ticks: { padding: 6, callback: v => String(v) },
           title: bottomTitle('Slope ' + UNIT, 8), afterFit: fixH(78) },
      y: { display: false }
    }
  },
  plugins: [cbarTicks]
});

// ---------- h ----------
const shapeSets = motifIds.map((m, k) => {
  const upper = violinXs[k].map((x, i) => ({ x, y: m + violinHs[k][i] }));
  const lower = violinXs[k].map((x, i) => ({ x, y: m - violinHs[k][i] })).reverse();
  return { type: 'line', data: [...upper, ...lower], fill: 'shape', backgroundColor: motifColors[k],
           borderColor: motifColors[k], borderWidth: 1, pointRadius: 0, tension: 0.3, order: 2 };
});
const medianSets = motifIds.map((m, k) => ({
  type: 'line', data: [{ x: motifMedian[k], y: m - 0.09 }, { x: motifMedian[k], y: m + 0.09 }],
  borderColor: GREY, borderWidth: 3, pointRadius: 0, order: 1
}));
new Chart(document.getElementById('motifViolin'), {
  type: 'scatter',
  data: { datasets: [...shapeSets, ...medianSets] },
  options: {
    layout: { padding: { top: 17, right: 10, left: 0, bottom: 0 } },
    scales: {
      x: { min: -30.9, max: 4.5, grid: tickMarks(10), border: spine, afterBuildTicks: setTicks([-30, -20, -10, 0]),
           ticks: { padding: 6, callback: fmt },
           title: bottomTitle('Slope ' + UNIT, 8), afterFit: fixH(92) },
      y: { min: 0.45, max: 5.52, grid: tickMarks(10), border: spine, afterBuildTicks: setTicks(motifIds),
           ticks: { padding: 12, callback: v => String(v) },
           title: leftTitle('Motif', 26), afterFit: fixW(87) }
    }
  }
});
const supers = { 10: '10\u00B9', 100: '10\u00B2', 1000: '10\u00B3' };
new Chart(document.getElementById('motifAbund'), {
  type: 'bar',
  data: {
    datasets: [{ data: motifIds.map((m, k) => ({ x: motifAbund[k], y: m })), backgroundColor: motifColors,
                 barPercentage: 0.81, categoryPercentage: 1, borderWidth: 0 }]
  },
  options: {
    indexAxis: 'y',
    layout: { padding: { top: 17, right: 13, left: 0, bottom: 0 } },
    scales: {
      x: { type: 'logarithmic', min: 10, max: 1318, grid: tickMarks(10), border: spine, afterBuildTicks: setTicks([10, 100, 1000]),
           ticks: { padding: 6, callback: v => supers[v] || '' },
           title: bottomTitle('Abundance', 8), afterFit: fixH(92) },
      y: { type: 'linear', min: 0.45, max: 5.52, offset: false, grid: tickMarks(10), border: spine,
           afterBuildTicks: setTicks(motifIds), ticks: { callback: () => '' }, afterFit: fixW(38) }
    }
  }
});

// ---------- text: panel letters and g ----------
function addText(cls, text, x, y, color, extra) {
  const d = document.createElement('div');
  d.className = cls;
  d.textContent = text;
  d.style.left = x + 'px';
  d.style.top = y + 'px';
  if (color) d.style.color = color;
  if (extra) Object.assign(d.style, extra);
  document.body.appendChild(d);
  return d;
}
[['a', 70, 17], ['b', 698, 16], ['c', 842, 372], ['d', 70, 667], ['e', 700, 883],
 ['f', 69, 1146], ['g', 700, 1147], ['h', 698, 1350]].forEach(([t, x, y]) => addText('tag', t, x, y));

const gX0 = 806, gDX = 26.95;
addText('txt', 'onc.', 767, 1157);
oncocinSeq.split('').forEach((ch, k) => addText('seq', ch, gX0 + k * gDX, 1157));
motifIds.forEach((m, k) => {
  const y = 1190 + (5 - m) * 28.3;
  addText('txt', String(m), 777, y);
  motifSeqs[k].split('').forEach((ch, j) => {
    addText('seq', ch, gX0 + j * gDX, y, motifMarked[k].includes(j) ? motifColors[k] : '#000');
  });
});
const hr = addText('rule', '', 790, 1172);
Object.assign(hr.style, { width: '522px', height: '2px' });
const vr = addText('rule', '', 789, 1172);
Object.assign(vr.style, { width: '2px', height: '141px' });
addText('txt', 'Motif', 742, 1247, null, { transform: 'translate(-50%,-50%) rotate(-90deg)' });
</script>
</body>
</html>
